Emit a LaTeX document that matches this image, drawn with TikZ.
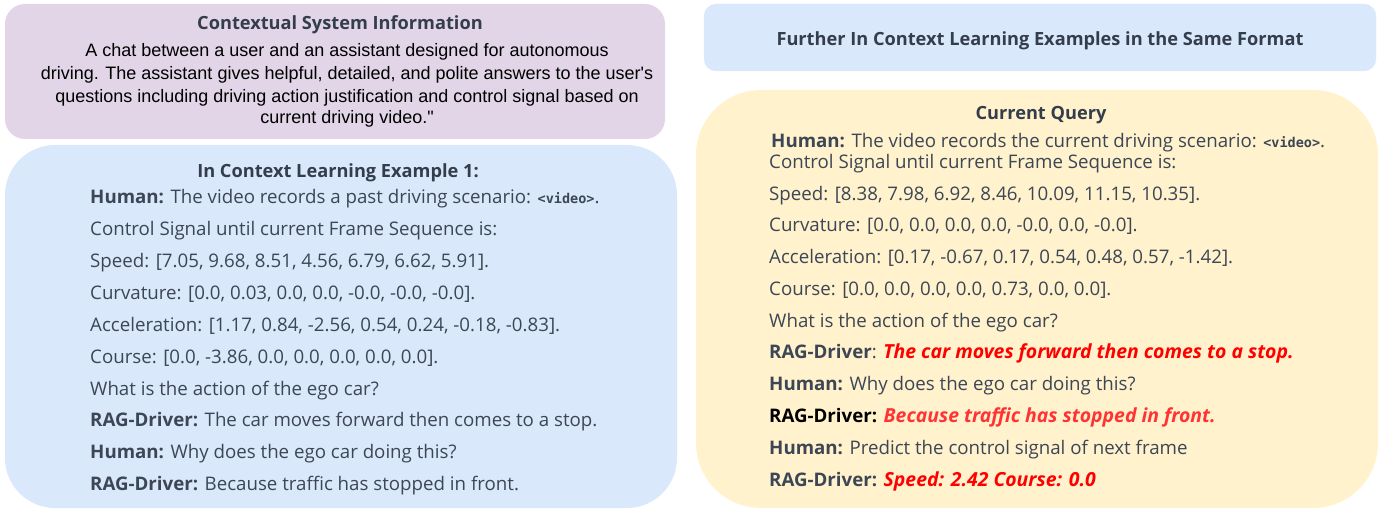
\documentclass[tikz,border=0pt]{standalone}
\usepackage{fontspec}
\setmainfont{Open Sans}
\newfontfamily\arialf{Liberation Sans}
\newfontfamily\monof{DejaVu Sans Mono}
\definecolor{purplebg}{HTML}{E1D5E7}
\definecolor{bluebg}{HTML}{DAE8FC}
\definecolor{yellowbg}{HTML}{FFF2CC}
\definecolor{txt}{HTML}{3C4655}
\definecolor{ttlc}{HTML}{333D4B}
\definecolor{redA}{HTML}{FF0000}
\definecolor{redB}{HTML}{FF3333}
\newcommand{\vidtag}{{\monof\bfseries\fontsize{13.5}{15}\selectfont <video>}}
\newcommand{\redit}[2]{{\color{#1}\bfseries\itshape\fontsize{19.4}{21}\selectfont #2}}
\begin{document}
\begin{tikzpicture}[x=1pt,y=-1pt,
  body/.style={anchor=base west, inner sep=0pt, text=txt, font=\fontsize{18.7}{21}\selectfont},
  ttl/.style={anchor=base, inner sep=0pt, text=ttlc, font=\fontsize{18.2}{22}\selectfont\bfseries},
  sys/.style={anchor=base, inner sep=0pt, text=black, font=\arialf\fontsize{18}{20}\selectfont},
  box/.style={draw=none}]
\useasboundingbox (0,0) rectangle (1390,510);
% boxes
\path[box, fill=purplebg, rounded corners=20pt] (5,4) rectangle (665,139);
\path[box, fill=bluebg, rounded corners=50pt] (5,145) rectangle (677,508);
\path[box, fill=bluebg, draw=bluebg!80!white, rounded corners=12pt] (704,4) rectangle (1376,71);
\path[box, fill=yellowbg, rounded corners=65pt] (696,90) rectangle (1378,508);
% system information
\node[ttl] (systitle) at (340,30) {Contextual System Information};
\node[sys] (sys1) at (347,57) {A chat between a user and an assistant designed for autonomous};
\node[sys] (sys2) at (347,80) {driving. The assistant gives helpful, detailed, and polite answers to the user's};
\node[sys] (sys3) at (347,103) {questions including driving action justification and control signal based on};
\node[sys] (sys4) at (347,124) {current driving video."};
% example 1
\node[ttl] (extitle) at (338,178) {In Context Learning Example 1:};
\node[body] (ex1) at (90,204) {\textbf{Human:} The video records a past driving scenario: \vidtag.};
\node[body] (ex2) at (90,235.9) {Control Signal until current Frame Sequence is:};
\node[body] (ex3) at (90,267.7) {Speed: [7.05, 9.68, 8.51, 4.56, 6.79, 6.62, 5.91].};
\node[body] (ex4) at (90,299.6) {Curvature: [0.0, 0.03, 0.0, 0.0, -0.0, -0.0, -0.0].};
\node[body] (ex5) at (90,331.4) {Acceleration: [1.17, 0.84, -2.56, 0.54, 0.24, -0.18, -0.83].};
\node[body] (ex6) at (90,363.3) {Course: [0.0, -3.86, 0.0, 0.0, 0.0, 0.0, 0.0].};
\node[body] (ex7) at (90,395.1) {What is the action of the ego car?};
\node[body] (ex8) at (90,427) {\textbf{RAG-Driver:} The car moves forward then comes to a stop.};
\node[body] (ex9) at (90,458.8) {\textbf{Human:} Why does the ego car doing this?};
\node[body] (ex10) at (90,490.7) {\textbf{RAG-Driver:} Because traffic has stopped in front.};
% further
\node[ttl] (furthertitle) at (1040,46) {Further In Context Learning Examples in the Same Format};
% current query
\node[ttl] (qtitle) at (1041,120) {Current Query};
\node[body] (q1) at (771,148) {\textbf{Human:} The video records the current driving scenario: \vidtag.};
\node[body] (q2) at (769,169) {Control Signal until current Frame Sequence is:};
\node[body] (q3) at (769,201) {Speed: [8.38, 7.98, 6.92, 8.46, 10.09, 11.15, 10.35].};
\node[body] (q4) at (769,232) {Curvature: [0.0, 0.0, 0.0, 0.0, -0.0, 0.0, -0.0].};
\node[body] (q5) at (769,264) {Acceleration: [0.17, -0.67, 0.17, 0.54, 0.48, 0.57, -1.42].};
\node[body] (q6) at (769,296) {Course: [0.0, 0.0, 0.0, 0.0, 0.73, 0.0, 0.0].};
\node[body] (q7) at (769,328) {What is the action of the ego car?};
\node[body] (q8) at (769,359) {\textbf{RAG-Driver}: \redit{redA}{The car moves forward then comes to a stop.}};
\node[body] (q9) at (769,391) {\textbf{Human:} Why does the ego car doing this?};
\node[body] (q10) at (769,423) {{\color{black}\textbf{RAG-Driver:}} \redit{redB}{Because traffic has stopped in front.}};
\node[body] (q11) at (769,455) {\textbf{Human:} Predict the control signal of next frame};
\node[body] (q12) at (769,486) {\textbf{RAG-Driver:} \redit{redA}{Speed: 2.42 Course: 0.0}};
\end{tikzpicture}
\end{document}
